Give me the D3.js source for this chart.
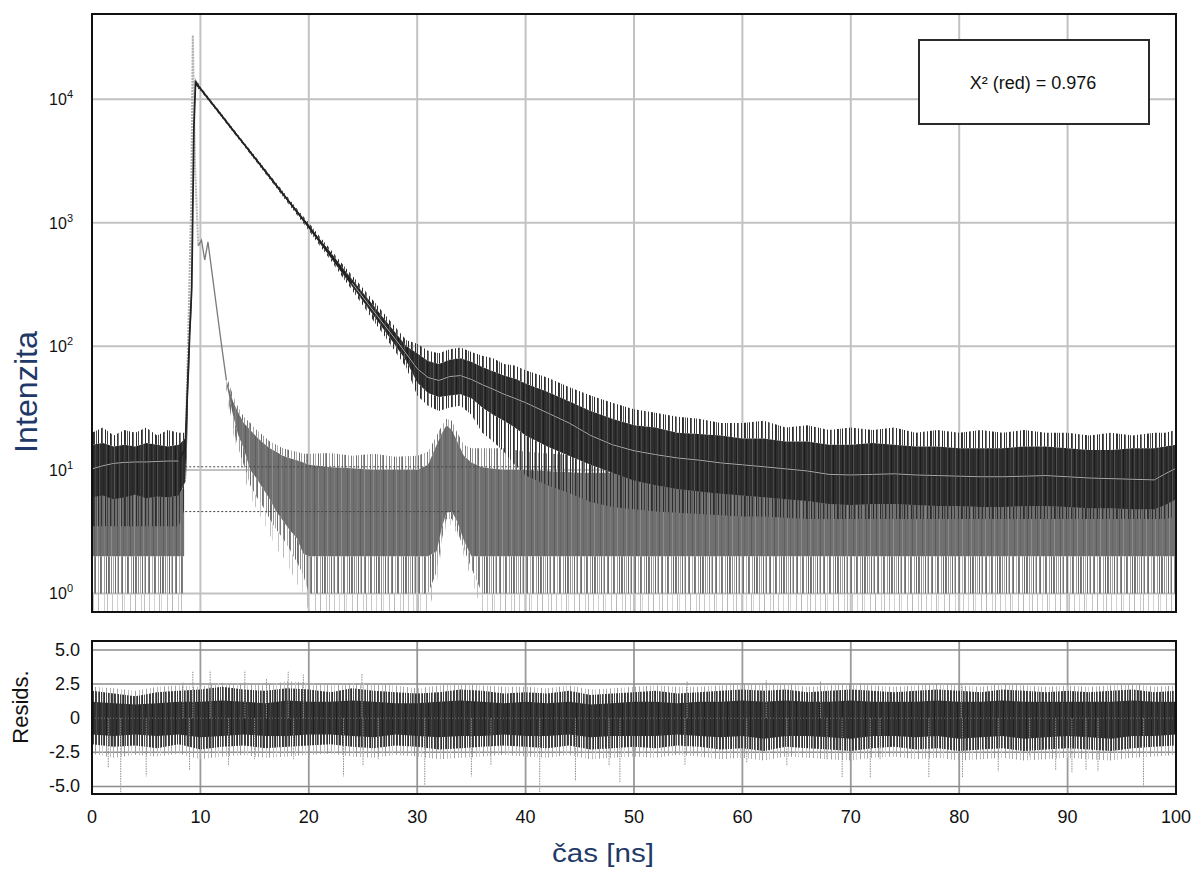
<!DOCTYPE html>
<html>
<head>
<meta charset="utf-8">
<script src="https://cdn.jsdelivr.net/npm/d3@7"></script>
<style>
  body { margin: 0; background: #fff; }
  svg { display: block; font-family: "Liberation Sans", Arial, sans-serif; }
</style>
</head>
<body>
<script>
// ---- values ----
// sample (dark) decay: fit line and noise envelopes, counts vs time [ns]
const decTime = [0, 1, 2, 3, 4, 5, 6, 7, 8,
  8.6, 9.0, 9.2, 9.4, 9.55,
  10, 11, 12, 13, 14, 15, 16, 17, 18, 19,
  20, 21, 22, 23, 24, 25, 26, 27, 28, 29,
  30, 31, 32, 33, 34, 35, 36, 37, 38, 39, 40,
  42, 44, 46, 48, 50, 52, 54, 56, 58, 60,
  62, 64, 66, 68, 70, 72, 74, 76, 78, 80,
  82, 84, 86, 88, 90, 92, 94, 96, 98,
  99, 100];
const decFit = [10.2, 10.8, 11.3, 11.5, 11.6, 11.6, 11.7, 11.8, 11.8,
  15, 120, 300, 6000, 13700,
  12200, 9440, 7300, 5630, 4360, 3370, 2610, 2010, 1550, 1200,
  930, 710, 550, 420, 325, 250, 192, 148, 114, 87,
  66, 56, 53, 57, 58, 54, 49, 45, 41, 38, 35,
  29, 24, 19, 16, 14.3, 13.3, 12.5, 12, 11.4, 11,
  10.6, 10.2, 9.8, 9.2, 9.1, 9.2, 9.3, 9.1, 9.0, 8.9,
  8.8, 8.8, 8.9, 9.0, 8.8, 8.6, 8.5, 8.4, 8.3,
  9.3, 10.3];
const decHi = [16, 16.5, 15.5, 16, 15.5, 16.5, 16, 15.5, 16,
  18, 140, 340, 6500, 14500,
  12400, 9600, 7420, 5730, 4440, 3430, 2660, 2050, 1590, 1235,
  965, 740, 580, 448, 350, 272, 212, 165, 129, 100,
  88, 76, 72, 78, 80, 75, 68, 63, 58, 55, 50,
  43, 36, 30, 26, 23, 22, 20, 19.5, 19, 18,
  18, 17, 17, 16, 16, 16.5, 16, 15.5, 15.5, 15,
  15, 15, 15.5, 15.5, 15, 14.5, 14.5, 15, 15,
  15.5, 16];
const decLo = [6, 6.2, 5.8, 6, 6.3, 5.9, 6.1, 6, 6.2,
  8, 100, 260, 5500, 12900,
  12000, 9280, 7180, 5530, 4280, 3310, 2560, 1970, 1515, 1170,
  900, 685, 525, 398, 305, 232, 176, 134, 101, 76,
  51, 42, 39, 40, 41, 38, 32, 28, 25, 22, 19,
  15.5, 13, 11, 9.5, 8.2, 7.5, 7, 6.7, 6.4, 6.2,
  6, 5.8, 5.6, 5.3, 5.2, 5.3, 5.3, 5.2, 5.1, 5.1,
  5, 5, 5.1, 5.1, 5, 4.9, 4.9, 4.8, 4.8,
  5.2, 5.8];
const decOutHi = [20, 22, 19, 21, 20, 22, 19, 21, 20,
  20, 150, 360, 6700, 14800,
  12600, 9750, 7550, 5830, 4520, 3500, 2720, 2100, 1630, 1270,
  1000, 775, 610, 475, 375, 295, 232, 182, 143, 112,
  105, 92, 88, 95, 98, 90, 84, 80, 72, 70, 64,
  56, 47, 40, 35, 31, 29, 27, 26, 24, 24,
  25, 22, 23, 21, 22, 21, 22, 20, 21, 20,
  21, 20, 21, 20, 20, 19, 20, 19, 20,
  20, 21];
const decOutLo = [3.5, 3.5, 3.5, 3.5, 3.5, 3.5, 3.5, 3.5, 3.5,
  5, 80, 230, 5200, 12600,
  11800, 9120, 7050, 5430, 4200, 3240, 2500, 1920, 1470, 1130,
  865, 655, 500, 375, 285, 214, 160, 121, 90, 67,
  40, 33, 30, 32, 33, 28, 20, 17, 14, 11, 9,
  7.5, 6.5, 5.5, 5, 4.8, 4.6, 4.5, 4.4, 4.3, 4.2,
  4.2, 4.1, 4, 4, 4, 4, 4, 4, 4, 4,
  4, 4, 4, 4, 4, 4, 4, 4, 4,
  4, 4.2];

// instrument response (gray) noise envelopes
const irfTime = [0, 1, 2, 3, 4, 5, 6, 7, 8, 8.5,
  8.6, 8.8, 9.05, 9.3, 9.55, 9.8, 10.1, 10.45, 10.8, 11.1, 11.6, 12.0,
  12.4, 13.0, 13.5, 14, 14.6, 15.2, 15.8, 16.4, 17, 17.6, 18.2, 18.9, 19.5, 20,
  22, 24, 26, 28, 30,
  31, 31.8, 32.3, 32.7, 33.2, 33.7, 34.3, 35, 36, 38, 40,
  45, 50, 55, 60, 65, 70, 75, 80, 85, 90, 95, 100];
const irfHi = [8, 8, 8, 8, 8, 8, 8, 8, 8, 8,
  null, null, null, null, null, null, null, null, null, null, null, null,
  58, 40, 32, 27, 24, 21, 19, 17, 16, 15, 14.5, 14, 13.5, 13.5,
  13.7, 13, 13.5, 12.8, 13,
  14, 19, 23, 26, 25, 20, 16, 15, 15, 15, 14,
  13, 12.5, 13, 12.5, 13, 12.5, 12.5, 13, 12.5, 13, 12.5, 13];
const irfUp = [7, 7, 7, 7, 7, 7, 7, 7, 7, 7,
  null, null, null, null, null, null, null, null, null, null, null, null,
  53, 36, 29, 24, 21, 18.5, 16.5, 15, 14, 13, 12.5, 12, 11.5, 11,
  10.5, 10.3, 10, 10, 10,
  11, 16, 20, 23, 21, 17, 13, 11.5, 10.5, 10, 10,
  9.5, 9.5, 9.5, 9.5, 9.5, 9.5, 9.5, 9.5, 9.5, 9.5, 9.5, 9.5];
const irfDn = [2, 2, 2, 2, 2, 2, 2, 2, 2, 2,
  null, null, null, null, null, null, null, null, null, null, null, null,
  50, 28, 19, 15, 10, 8.5, 7, 5.8, 4.6, 3.9, 3.3, 2.8, 2.1, 2,
  2, 2, 2, 2, 2,
  2, 2.2, 3.5, 4.5, 4.6, 3.8, 2.7, 2, 2, 2, 2,
  2, 2, 2, 2, 2, 2, 2, 2, 2, 2, 2, 2];
const irfLo = [1, 1, 1, 1, 1, 1, 1, 1, 1, 1,
  null, null, null, null, null, null, null, null, null, null, null, null,
  45, 22, 15, 11, 7.5, 6, 5, 4, 3.3, 2.8, 2.3, 1.8, 1.4, 1,
  1, 1, 1, 1, 1,
  1, 1.5, 2.8, 4, 4, 3.2, 2.3, 1.6, 1, 1, 1,
  1, 1, 1, 1, 1, 1, 1, 1, 1, 1, 1, 1];
const irfMin = [0.71, 0.71, 0.71, 0.71, 0.71, 0.71, 0.71, 0.71, 0.71, 0.71,
  null, null, null, null, null, null, null, null, null, null, null, null,
  40, 20, 13, 9, 6, 4.8, 3.8, 3, 2.3, 2, 1.6, 1.2, 1, 0.71,
  0.71, 0.71, 0.71, 0.71, 0.71,
  0.71, 1.2, 2.5, 3.6, 3.6, 3, 2, 1.3, 0.71, 0.71, 0.71,
  0.71, 0.71, 0.71, 0.71, 0.71, 0.71, 0.71, 0.71, 0.71, 0.71, 0.71, 0.71];
// instrument response peak (light) and its shoulder (gray line)
const irfPulseTime = [8.55, 8.9, 9.15, 9.3, 9.5, 9.8];
const irfPulseVal = [8, 150, 1500, 33000, 3000, 650];
const irfTailTime = [9.8, 10.1, 10.4, 10.7, 11.0, 11.6, 12.0, 12.4];
const irfTailVal = [650, 725, 500, 700, 440, 175, 95, 53];

// dotted guide levels
const guideLevel = [10.6, 4.6];
const guideFrom = [8.6, 8.6];
const guideTo = [43, 34];

// residuals: envelopes every 2 ns
const resTime = [0, 2, 4, 6, 8, 10, 12, 14, 16, 18,
  20, 22, 24, 26, 28, 30, 32, 34, 36, 38,
  40, 42, 44, 46, 48, 50, 52, 54, 56, 58,
  60, 62, 64, 66, 68, 70, 72, 74, 76, 78,
  80, 82, 84, 86, 88, 90, 92, 94, 96, 98,
  100];
const resCoreHi = [1.2, 1.1, 1.0, 1.1, 1.2, 1.2, 1.3, 1.2, 1.1, 1.3,
  1.2, 1.2, 1.3, 1.2, 1.1, 1.1, 1.2, 1.3, 1.2, 1.1,
  1.2, 1.1, 1.2, 1.0, 1.1, 1.2, 1.2, 1.1, 1.2, 1.2,
  1.3, 1.2, 1.3, 1.2, 1.2, 1.3, 1.2, 1.2, 1.2, 1.3,
  1.2, 1.2, 1.3, 1.2, 1.2, 1.2, 1.2, 1.2, 1.3, 1.2,
  1.2];
const resCoreLo = [-1.2, -1.3, -1.2, -1.3, -1.2, -1.4, -1.3, -1.2, -1.3, -1.3,
  -1.2, -1.2, -1.3, -1.4, -1.2, -1.3, -1.4, -1.3, -1.3, -1.2,
  -1.3, -1.3, -1.2, -1.4, -1.3, -1.3, -1.3, -1.2, -1.3, -1.4,
  -1.3, -1.5, -1.3, -1.3, -1.4, -1.5, -1.3, -1.3, -1.4, -1.3,
  -1.5, -1.4, -1.3, -1.5, -1.4, -1.3, -1.4, -1.5, -1.3, -1.3,
  -1.2];
const resHi = [2.0, 1.8, 1.6, 1.9, 2.0, 2.1, 2.3, 2.1, 2.0, 2.2,
  2.1, 1.9, 2.2, 2.0, 1.9, 1.8, 1.9, 2.1, 2.0, 1.8,
  1.9, 1.8, 2.0, 1.7, 1.8, 1.9, 2.0, 1.8, 1.9, 2.0,
  2.1, 2.0, 2.1, 1.9, 2.0, 2.1, 2.0, 1.9, 2.0, 2.1,
  2.0, 1.9, 2.1, 2.0, 1.9, 2.0, 1.9, 2.0, 2.1, 1.9,
  2.0];
const resLo = [-1.9, -2.1, -2.0, -2.2, -1.9, -2.3, -2.1, -2.0, -2.2, -2.1,
  -2.0, -1.9, -2.1, -2.2, -2.0, -2.1, -2.3, -2.2, -2.1, -2.0,
  -2.1, -2.2, -2.0, -2.3, -2.2, -2.1, -2.2, -2.0, -2.1, -2.3,
  -2.2, -2.4, -2.1, -2.2, -2.3, -2.4, -2.2, -2.1, -2.3, -2.2,
  -2.4, -2.3, -2.2, -2.4, -2.3, -2.2, -2.3, -2.4, -2.2, -2.1,
  -2.0];
const resOutHi = [2.3, 2.2, 2.0, 2.3, 2.4, 2.3, 2.6, 2.5, 2.4, 2.7,
  2.6, 2.4, 2.6, 2.5, 2.4, 2.2, 2.4, 2.5, 2.4, 2.3,
  2.3, 2.2, 2.4, 2.1, 2.2, 2.3, 2.4, 2.3, 2.3, 2.4,
  2.5, 2.4, 2.5, 2.3, 2.4, 2.5, 2.4, 2.3, 2.4, 2.5,
  2.4, 2.3, 2.5, 2.4, 2.3, 2.4, 2.3, 2.4, 2.5, 2.3,
  2.4];
const resOutLo = [-2.6, -2.9, -2.7, -2.8, -2.6, -3.0, -2.8, -2.7, -2.9, -2.8,
  -2.7, -2.6, -2.8, -2.9, -2.7, -2.8, -3.0, -2.9, -2.8, -2.7,
  -2.8, -2.9, -2.7, -3.0, -2.9, -2.8, -2.9, -2.7, -2.8, -3.0,
  -2.9, -3.1, -2.8, -2.9, -3.0, -3.1, -2.9, -2.8, -3.0, -2.9,
  -3.1, -3.0, -2.9, -3.1, -3.0, -2.9, -3.0, -3.1, -2.9, -2.8,
  -2.7];
// single long residual spikes
const resSpikeTime = [1.5, 2.65, 5.0, 9.0, 12.6, 15.0, 18.6, 23.2, 25.0, 26.4,
  30.7, 35.0, 36.8, 41.3, 44.6, 47.7, 48.7, 54.7, 60.4, 64.1,
  67.8, 69.2, 71.8, 72.7, 77.2, 80.3, 83.6, 86.5, 88.9, 90.4,
  91.7, 92.8, 97.0,
  8.4, 9.3, 10.9, 14.1, 16.1, 18.1, 19.5, 24.9, 54.9, 62.2, 67.2, 80.2];
const resSpikeVal = [-3.65, -5.45, -4.26, -3.8, -3.5, -3.0, -3.0, -4.26, -3.5, -3.0,
  -4.9, -4.26, -3.4, -5.4, -4.6, -3.5, -4.7, -3.4, -3.3, -3.5,
  -3.0, -4.3, -4.4, -3.0, -4.3, -4.3, -3.9, -2.8, -3.8, -4.0,
  -3.8, -3.9, -5.1,
  2.6, 3.4, 3.5, 3.5, 2.9, 3.4, 3.2, 3.3, 2.7, 2.8, 2.7, 2.45];

const xTicks = [0, 10, 20, 30, 40, 50, 60, 70, 80, 90, 100];
const yExp = [0, 1, 2, 3, 4];
const resTicks = [5, 2.5, 0, -2.5, -5];
const resTickText = ["5.0", "2.5", "0", "-2.5", "-5.0"];
const chiText = "X\u00B2 (red) = 0.976";

// ---- drawing ----
const width = 1194, height = 872;
const svg = d3.select("body").append("svg")
    .attr("width", width)
    .attr("height", height);

const x = d3.scaleLinear().domain([0, 100]).range([92, 1176]);
const y = d3.scaleLog().domain([0.708, 49000]).range([612, 14]);
const yr = d3.scaleLinear().domain([-5.55, 5.65]).range([794, 641]);

const defs = svg.append("defs");
defs.append("clipPath").attr("id", "clipMain")
    .append("rect").attr("x", 92).attr("y", 14).attr("width", 1084).attr("height", 598);
defs.append("clipPath").attr("id", "clipRes")
    .append("rect").attr("x", 92).attr("y", 641).attr("width", 1084).attr("height", 153);

// stripe textures so the bands look like dense noisy data
function pattern(id, w, bg, stripes) {
    const p = defs.append("pattern").attr("id", id)
        .attr("width", w).attr("height", 8)
        .attr("patternUnits", "userSpaceOnUse");
    if (bg) p.append("rect").attr("width", w).attr("height", 8).attr("fill", bg);
    stripes.forEach(s => {
        p.append("rect").attr("x", s[0]).attr("width", 1).attr("height", 8).attr("fill", s[1]);
    });
}
pattern("texDark", 29, "#2d2d2d", [[1, "#1b1b1b"], [3, "#474747"], [6, "#222"], [8, "#3f3f3f"], [11, "#1e1e1e"],
    [12, "#505050"], [16, "#262626"], [19, "#454545"], [21, "#1c1c1c"], [24, "#3a3a3a"], [27, "#555"]]);
pattern("spikeDark", 31, null, [[0, "#2e2e2e"], [1, "#3a3a3a"], [3, "#555"], [5, "#2a2a2a"], [8, "#333"], [9, "#666"],
    [12, "#2b2b2b"], [14, "#444"], [17, "#303030"], [18, "#5a5a5a"], [21, "#2e2e2e"], [24, "#3d3d3d"], [25, "#777"], [28, "#333"]]);
pattern("texGray", 23, "#707070", [[2, "#5f5f5f"], [5, "#868686"], [8, "#656565"], [12, "#7c7c7c"], [15, "#5c5c5c"], [19, "#8a8a8a"]]);
pattern("spikeGray", 19, null, [[0, "#777"], [2, "#9a9a9a"], [3, "#6f6f6f"], [6, "#a8a8a8"], [9, "#7d7d7d"], [11, "#b2b2b2"], [14, "#6a6a6a"], [16, "#999"]]);
pattern("stripeMid", 27, null, [[0, "#707070"], [1, "#7a7a7a"], [3, "#8c8c8c"], [5, "#a8a8a8"], [7, "#6c6c6c"], [9, "#bdbdbd"],
    [10, "#777"], [13, "#8a8a8a"], [14, "#6e6e6e"], [17, "#b0b0b0"], [19, "#737373"], [20, "#7f7f7f"], [23, "#9c9c9c"], [25, "#6a6a6a"]]);
pattern("sparseLight", 37, null, [[1, "#c8c8c8"], [6, "#d4d4d4"], [11, "#bdbdbd"], [13, "#d8d8d8"], [19, "#c4c4c4"], [24, "#b8b8b8"], [30, "#d0d0d0"], [33, "#c0c0c0"]]);
pattern("texRes", 23, "#323232", [[1, "#202020"], [4, "#4a4a4a"], [7, "#262626"], [10, "#454545"], [14, "#1e1e1e"], [17, "#404040"], [20, "#2a2a2a"]]);
pattern("spikeResDark", 19, null, [[0, "#3a3a3a"], [1, "#444"], [3, "#6a6a6a"], [4, "#333"], [6, "#383838"], [8, "#555"],
    [9, "#2f2f2f"], [11, "#4d4d4d"], [13, "#3b3b3b"], [14, "#777"], [16, "#363636"], [17, "#444"]]);
pattern("spikeResLight", 29, null, [[1, "#a6a6a6"], [5, "#c2c2c2"], [8, "#999"], [12, "#b8b8b8"], [15, "#cfcfcf"], [19, "#a0a0a0"], [23, "#bbbbbb"], [26, "#aaa"]]);

function band(g, ts, lo, hi, ys, fill) {
    const rows = ts.map((t, i) => ({ t: t, lo: lo[i], hi: hi[i] }));
    g.append("path").datum(rows)
        .attr("d", d3.area()
            .defined(d => d.lo != null && d.hi != null)
            .x(d => x(d.t)).y0(d => ys(d.lo)).y1(d => ys(d.hi)))
        .attr("fill", fill);
}
function line(g, ts, vs, ys, keep) {
    const rows = ts.map((t, i) => ({ t: t, v: vs[i] }));
    return g.append("path").datum(rows)
        .attr("d", d3.line().defined(keep || (() => true)).x(d => x(d.t)).y(d => ys(d.v)))
        .attr("fill", "none");
}

// grids
const grid = svg.append("g");
grid.selectAll(".vm").data(xTicks.slice(1, -1)).enter().append("line")
    .attr("x1", d => x(d)).attr("x2", d => x(d))
    .attr("y1", 14).attr("y2", 612)
    .attr("stroke", "#c2c2c2").attr("stroke-width", 2);
grid.selectAll(".hm").data(yExp).enter().append("line")
    .attr("x1", 92).attr("x2", 1176)
    .attr("y1", d => y(Math.pow(10, d))).attr("y2", d => y(Math.pow(10, d)))
    .attr("stroke", "#c2c2c2").attr("stroke-width", 2);
grid.selectAll(".vr").data(xTicks.slice(1, -1)).enter().append("line")
    .attr("x1", d => x(d)).attr("x2", d => x(d))
    .attr("y1", 641).attr("y2", 794)
    .attr("stroke", "#9a9a9a").attr("stroke-width", 1.8);
grid.selectAll(".hr").data(resTicks).enter().append("line")
    .attr("x1", 92).attr("x2", 1176)
    .attr("y1", d => yr(d)).attr("y2", d => yr(d))
    .attr("stroke", "#8c8c8c").attr("stroke-width", 1.5);

// main panel data
const main = svg.append("g").attr("clip-path", "url(#clipMain)");
band(main, irfTime, irfMin, irfLo, y, "url(#sparseLight)");
band(main, irfTime, irfLo, irfDn, y, "url(#stripeMid)");
band(main, irfTime, irfDn, irfUp, y, "url(#texGray)");
band(main, irfTime, irfUp, irfHi, y, "url(#spikeGray)");
line(main, irfPulseTime, irfPulseVal, y)
    .attr("stroke", "#b4b4b4").attr("stroke-width", 2).attr("stroke-dasharray", "2,1");
line(main, irfTailTime, irfTailVal, y)
    .attr("stroke", "#7a7a7a").attr("stroke-width", 1.3);

band(main, decTime, decOutLo, decLo, y, "url(#spikeDark)");
band(main, decTime, decLo, decHi, y, "url(#texDark)");
band(main, decTime, decHi, decOutHi, y, "url(#spikeDark)");
line(main, decTime, decFit, y)
    .attr("stroke", "#222").attr("stroke-width", 1.8);
line(main, decTime, decFit, y, d => d.t <= 8 || d.t >= 24)
    .attr("stroke", "#a9a9a9").attr("stroke-width", 1);

main.selectAll(".guide").data(guideLevel).enter().append("line")
    .attr("x1", (d, i) => x(guideFrom[i])).attr("x2", (d, i) => x(guideTo[i]))
    .attr("y1", d => y(d)).attr("y2", d => y(d))
    .attr("stroke", "#444").attr("stroke-width", 1).attr("stroke-dasharray", "2,2");

// residual panel data
const res = svg.append("g").attr("clip-path", "url(#clipRes)");
band(res, resTime, resOutLo, resOutHi, yr, "url(#spikeResLight)");
band(res, resTime, resLo, resHi, yr, "url(#spikeResDark)");
band(res, resTime, resCoreLo, resCoreHi, yr, "url(#texRes)");
res.selectAll(".spike").data(resSpikeTime).enter().append("line")
    .attr("x1", d => x(d)).attr("x2", d => x(d))
    .attr("y1", yr(0)).attr("y2", (d, i) => yr(resSpikeVal[i]))
    .attr("stroke", "#8e8e8e").attr("stroke-width", 1).attr("stroke-dasharray", "1.5,1");
res.append("line")
    .attr("x1", 92).attr("x2", 1176).attr("y1", yr(0)).attr("y2", yr(0))
    .attr("stroke", "#777").attr("stroke-width", 1).attr("stroke-dasharray", "1,2");

// frames
svg.append("rect").attr("x", 92).attr("y", 14).attr("width", 1084).attr("height", 598)
    .attr("fill", "none").attr("stroke", "#111").attr("stroke-width", 2);
svg.append("rect").attr("x", 92).attr("y", 641).attr("width", 1084).attr("height", 153)
    .attr("fill", "none").attr("stroke", "#111").attr("stroke-width", 2);

// chi-square box
svg.append("rect").attr("x", 919).attr("y", 40).attr("width", 230).attr("height", 84)
    .attr("fill", "#fff").attr("stroke", "#2a2a2a").attr("stroke-width", 2);
svg.append("text").attr("x", 1033).attr("y", 89)
    .attr("text-anchor", "middle").attr("font-size", 18).attr("fill", "#111")
    .text(chiText);

// tick labels
const yl = svg.append("g").attr("fill", "#111");
yExp.forEach(e => {
    const t = yl.append("text")
        .attr("x", 73).attr("y", y(Math.pow(10, e)) + 6)
        .attr("text-anchor", "end").attr("font-size", 16);
    t.append("tspan").text("10");
    t.append("tspan").attr("dy", -7).attr("font-size", 11).text(e);
});
svg.append("g").selectAll("text").data(xTicks).enter().append("text")
    .attr("x", d => x(d)).attr("y", 823)
    .attr("text-anchor", "middle").attr("font-size", 18).attr("fill", "#111")
    .text(d => d);
svg.append("g").selectAll("text").data(resTicks).enter().append("text")
    .attr("x", 80).attr("y", d => yr(d) + 6)
    .attr("text-anchor", "end").attr("font-size", 18).attr("fill", "#111")
    .text((d, i) => resTickText[i]);

// axis titles
svg.append("text")
    .attr("transform", "translate(37,392) rotate(-90)")
    .attr("text-anchor", "middle").attr("font-size", 32).attr("fill", "#1f3a68")
    .attr("textLength", 122).attr("lengthAdjust", "spacingAndGlyphs")
    .text("Intenzita");
svg.append("text")
    .attr("transform", "translate(28,707) rotate(-90)")
    .attr("text-anchor", "middle").attr("font-size", 22).attr("fill", "#111")
    .text("Resids.");
svg.append("text")
    .attr("x", 603).attr("y", 862)
    .attr("text-anchor", "middle").attr("font-size", 26).attr("fill", "#1f3a68")
    .attr("textLength", 102).attr("lengthAdjust", "spacingAndGlyphs")
    .text("čas [ns]");
</script>
</body>
</html>
